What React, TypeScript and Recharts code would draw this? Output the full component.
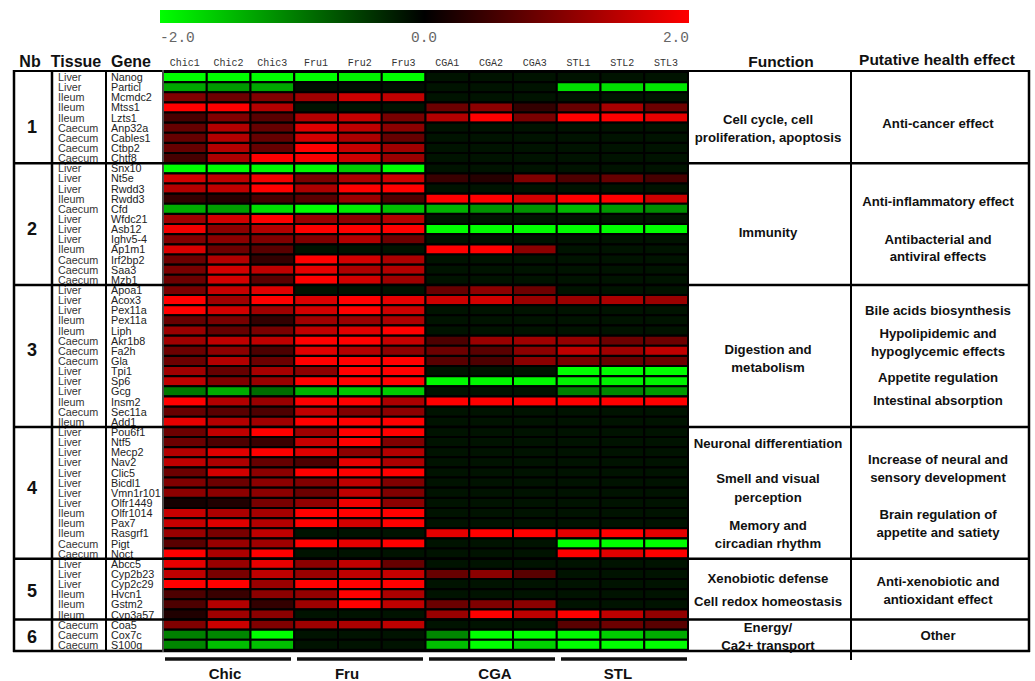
import { Bar, BarChart, Cell, XAxis, YAxis } from 'recharts'

const samples = ['Chic1', 'Chic2', 'Chic3', 'Fru1', 'Fru2', 'Fru3', 'CGA1', 'CGA2', 'CGA3', 'STL1', 'STL2', 'STL3']

const tissues = [
  'Liver', 'Liver', 'Ileum', 'Ileum', 'Ileum', 'Caecum', 'Caecum', 'Caecum', 'Caecum',
  'Liver', 'Liver', 'Liver', 'Ileum', 'Caecum', 'Liver', 'Liver', 'Liver', 'Ileum', 'Caecum', 'Caecum', 'Caecum',
  'Liver', 'Liver', 'Liver', 'Ileum', 'Ileum', 'Caecum', 'Caecum', 'Caecum', 'Liver', 'Liver', 'Liver', 'Ileum', 'Caecum', 'Ileum',
  'Liver', 'Liver', 'Liver', 'Liver', 'Liver', 'Liver', 'Liver', 'Liver', 'Ileum', 'Ileum', 'Ileum', 'Caecum', 'Caecum',
  'Liver', 'Liver', 'Liver', 'Ileum', 'Ileum', 'Ileum',
  'Caecum', 'Caecum', 'Caecum',
]

const genes = [
  'Nanog', 'Particl', 'Mcmdc2', 'Mtss1', 'Lzts1', 'Anp32a', 'Cables1', 'Ctbp2', 'Chtf8',
  'Snx10', 'Nt5e', 'Rwdd3', 'Rwdd3', 'Cfd', 'Wfdc21', 'Asb12', 'Ighv5-4', 'Ap1m1', 'Irf2bp2', 'Saa3', 'Mzb1',
  'Apoa1', 'Acox3', 'Pex11a', 'Pex11a', 'Liph', 'Akr1b8', 'Fa2h', 'Gla', 'Tpi1', 'Sp6', 'Gcg', 'Insm2', 'Sec11a', 'Add1',
  'Pou6f1', 'Ntf5', 'Mecp2', 'Nav2', 'Clic5', 'Bicdl1', 'Vmn1r101', 'Olfr1449', 'Olfr1014', 'Pax7', 'Rasgrf1', 'Pigt', 'Noct',
  'Abcc5', 'Cyp2b23', 'Cyp2c29', 'Hvcn1', 'Gstm2', 'Cyp3a57',
  'Coa5', 'Cox7c', 'S100g',
]

// log ratio per gene, columns in the order of `samples`
const values: number[][] = [
  [-2, -2, -2, -2, -1.9, -2, -0.15, -0.15, -0.15, -0.15, -0.15, -0.15],
  [-1.3, -1.2, -1.3, -0.1, -0.1, -0.1, -0.15, -0.15, -0.15, -1.75, -1.75, -1.8],
  [1.0, 0.85, 1.0, 1.25, 1.6, 1.5, -0.15, -0.15, -0.15, -0.15, -0.15, -0.15],
  [2, 2, 1.4, -0.15, -0.15, -0.15, 0.85, 1.1, 0.4, 0.8, 1.3, 0.85],
  [0.55, 1.0, 0.7, 1.4, 1.55, 0.95, 1.4, 2, 0.95, 2, 2, 1.8],
  [0.8, 1.4, 0.8, 1.75, 1.5, 1.1, -0.15, -0.15, -0.15, -0.15, -0.15, -0.15],
  [0.8, 1.4, 0.8, 1.65, 1.35, 0.8, -0.15, -0.15, -0.15, -0.15, -0.15, -0.15],
  [0.8, 1.4, 0.8, 2, 1.55, 1.25, -0.15, -0.15, -0.15, -0.15, -0.15, -0.15],
  [0.55, 1.35, 2, 1.95, 1.6, 1.2, -0.15, -0.15, -0.15, -0.15, -0.15, -0.15],
  [-2, -2, -1.95, -1.95, -1.6, -2, -0.15, -0.15, -0.15, -0.15, -0.15, -0.15],
  [1.65, 1.5, 1.9, 0.95, 1.35, 1.6, 0.45, 0.3, 1.0, 0.6, 0.8, 0.55],
  [1.4, 1.5, 2, 1.35, 2, 2, -0.15, -0.15, -0.15, -0.15, -0.15, -0.15],
  [0.4, 0.3, 0.55, 0.7, 1.2, 0.6, 2, 2, 1.65, 2, 2, 1.6],
  [-1.35, -1.25, -1.75, -2, -1.85, -1.5, -1.4, -1.15, -1.15, -1.45, -1.2, -1.1],
  [1.25, 1.65, 2, 1.2, 1.1, 1.4, -0.15, -0.15, -0.15, -0.15, -0.15, -0.15],
  [1.9, 1.1, 1.4, 2, 2, 2, -2, -2, -2, -2, -2, -2],
  [1.0, 1.1, 1.0, 1.0, 1.4, 0.85, -0.15, -0.15, -0.15, -0.15, -0.15, -0.15],
  [1.7, 0.85, 0.7, -0.15, -0.15, -0.15, 2, 2, 1.1, -0.15, -0.15, -0.15],
  [0.85, 1.4, 0.4, 2, 1.65, 1.35, -0.15, -0.15, -0.15, -0.15, -0.15, -0.15],
  [0.95, 1.65, 1.5, 1.8, 1.35, 1.4, -0.15, -0.15, -0.15, -0.15, -0.15, -0.15],
  [0.85, 1.65, 0.7, 2, 1.65, 1.25, -0.15, -0.15, -0.15, -0.15, -0.15, -0.15],
  [0.95, 1.55, 1.75, -0.15, -0.15, -0.15, 0.8, 1.1, 0.85, -0.15, -0.15, -0.15],
  [2, 1.25, 2, 1.7, 2, 1.8, 1.6, 1.65, 1.2, 1.2, 1.35, 1.2],
  [2, 1.65, 1.25, 1.65, 2, 1.6, -0.15, -0.15, -0.15, -0.15, -0.15, -0.15],
  [0.8, 0.95, 0.4, 1.25, 1.2, 1.35, -0.15, -0.15, -0.15, -0.15, -0.15, -0.15],
  [1.2, 0.8, 0.95, 1.5, 1.75, 2, -0.15, -0.15, -0.15, -0.15, -0.15, -0.15],
  [1.25, 1.5, 1.5, 2, 2, 1.55, 0.6, 1.2, 1.25, 1.15, 0.85, 0.85],
  [0.85, 1.1, 0.6, 1.75, 1.4, 1.1, 0.85, 0.7, 1.1, 1.5, 1.25, 1.5],
  [0.85, 1.4, 0.85, 2, 2, 2, 0.7, 0.6, 1.1, 0.95, 0.8, 0.85],
  [1.25, 0.8, 1.3, 1.1, 2, 2, -0.15, -0.15, -0.15, -2, -2, -2],
  [1.5, 1.0, 1.2, 2, 2, 2, -1.95, -1.95, -1.95, -1.9, -1.9, -1.9],
  [-0.95, -1.35, -0.85, -1.4, -1.55, -1.6, -0.15, -0.15, -0.15, -1.0, -1.05, -1.2],
  [2, 1.4, 1.2, 2, 2, 1.35, 2, 2, 2, 2, 2, 2],
  [0.8, 0.7, 0.6, 1.5, 1.0, 1.1, -0.15, -0.15, -0.15, -0.15, -0.15, -0.15],
  [1.8, 1.4, 1.25, 2, 2, 2, -0.15, -0.15, -0.15, -0.15, -0.15, -0.15],
  [0.85, 1.5, 2, 1.25, 2, 2, -0.15, -0.15, -0.15, -0.15, -0.15, -0.15],
  [0.85, 0.6, 0.45, 1.55, 2, 1.0, -0.15, -0.15, -0.15, -0.15, -0.15, -0.15],
  [1.4, 1.75, 2, 1.75, 1.1, 1.4, -0.15, -0.15, -0.15, -0.15, -0.15, -0.15],
  [1.5, 1.35, 0.8, 0.6, 1.8, 1.35, -0.15, -0.15, -0.15, -0.15, -0.15, -0.15],
  [0.85, 1.65, 1.1, 2, 2, 2, -0.15, -0.15, -0.15, -0.15, -0.15, -0.15],
  [1.0, 0.85, 1.1, 1.0, 1.5, 1.0, -0.15, -0.15, -0.15, -0.15, -0.15, -0.15],
  [1.1, 1.1, 1.1, 0.85, 1.5, 1.0, -0.15, -0.15, -0.15, -0.15, -0.15, -0.15],
  [0.15, 0.25, 0.95, 1.15, 1.9, 1.1, -0.15, -0.15, -0.15, -0.15, -0.15, -0.15],
  [1.55, 1.35, 1.3, 2, 2, 2, -0.15, -0.15, -0.15, -0.15, -0.15, -0.15],
  [1.55, 1.75, 1.4, 2, 1.65, 2, -0.15, -0.15, -0.15, -0.15, -0.15, -0.15],
  [1.2, 0.95, 1.5, -0.15, -0.15, -0.15, 1.8, 2, 2, 1.8, 2, 1.8],
  [0.7, 1.2, 1.25, 2, 1.8, 2, -0.15, -0.15, -0.15, -2, -2, -2],
  [2, 1.35, 2, -0.15, -0.15, -0.15, -0.15, -0.15, -0.15, 2, 1.75, 2],
  [1.8, 1.2, 1.8, 1.1, 1.5, 0.8, -0.15, -0.15, -0.15, -0.15, -0.15, -0.15],
  [1.5, 0.95, 1.5, 1.2, 1.5, 1.55, 0.8, 1.1, 0.7, -0.15, -0.15, -0.15],
  [2, 2, 1.2, 2, 2, 2, -0.15, -0.15, -0.15, -0.15, -0.15, -0.15],
  [0.6, 0.45, 1.1, 1.15, 2, 1.35, -0.15, -0.15, -0.15, -0.15, -0.15, -0.15],
  [0.6, 1.4, 0.4, 1.25, 2, 1.5, 0.85, 1.0, 1.1, -0.15, -0.15, -0.15],
  [0.25, 1.25, 1.1, -0.15, -0.15, -0.15, 1.2, 2, 1.5, 2, 1.5, 1.15],
  [1.0, 1.6, 1.0, 1.25, 1.35, 1.5, -0.15, -0.15, -0.15, 0.7, 0.85, 0.7],
  [-1.0, -1.05, -2, -0.15, -0.15, -0.15, -1.05, -2, -2, -1.95, -1.6, -1.35],
  [-1.05, -1.5, -1.5, -0.15, -0.15, -0.15, -1.5, -2, -1.65, -2, -2, -2],
]

const groupSizes = [9, 12, 14, 13, 6, 3]
const groupNames = ['Chic', 'Fru', 'CGA', 'STL']

const functionLines = [
  'Cell cycle, cell', 'proliferation, apoptosis', 'Immunity', 'Digestion and', 'metabolism',
  'Neuronal differentiation', 'Smell and visual', 'perception', 'Memory and', 'circadian rhythm',
  'Xenobiotic defense', 'Cell redox homeostasis', 'Energy/', 'Ca2+ transport',
]
const effectLines = [
  'Anti-cancer effect', 'Anti-inflammatory effect', 'Antibacterial and', 'antiviral effects',
  'Bile acids biosynthesis', 'Hypolipidemic and', 'hypoglycemic effects', 'Appetite regulation', 'Intestinal absorption',
  'Increase of neural and', 'sensory development', 'Brain regulation of', 'appetite and satiety',
  'Anti-xenobiotic and', 'antioxidant effect', 'Other',
]

// layout (page pixels)
const functionY = [119, 137, 232, 349, 367, 443, 478, 497, 525, 543, 578, 601, 627, 645]
const effectY = [123, 201, 239, 256, 310, 333, 351, 377, 400, 459, 477, 514, 532, 581, 599, 635]
const nbY = [127, 229, 350, 488, 591, 637]
const groupBarX = [[165, 291], [297, 423], [429, 555], [561, 687]]
const groupLabelX = [225, 347, 495, 618]

const W = 1035
const H = 681
const plotTop = 72
const plotBottom = 650
const rowH = (plotBottom - plotTop) / genes.length

const SANS = '"Liberation Sans", Arial, sans-serif'
const MONO = '"Liberation Mono", "DejaVu Sans Mono", monospace'

function heat(v: number): string {
  const c = Math.round(255 * Math.min(1, Math.abs(v) / 2))
  return v < 0 ? `rgb(0,${c},0)` : `rgb(${c},0,0)`
}

const rows = genes.map((g, i) => ({ key: i, gene: g, tissue: tissues[i] }))

function LabelTick(props: any) {
  const { y, payload } = props
  const i = payload.value as number
  return (
    <g>
      <text x={58} y={y} dominantBaseline="central" fontSize={10.8} fontFamily={SANS} fill="#333">
        {tissues[i]}
      </text>
      <text x={111} y={y} dominantBaseline="central" fontSize={10.8} fontFamily={SANS} fill="#222">
        {genes[i]}
      </text>
    </g>
  )
}

function SampleTick(props: any) {
  const { x, payload } = props
  return (
    <text x={x} y={63} textAnchor="middle" dominantBaseline="central" fontSize={10} fontFamily={MONO} fill="#333">
      {samples[Math.floor(payload.value)]}
    </text>
  )
}

function Overlay() {
  const bounds: number[] = []
  let acc = 0
  for (const s of groupSizes) {
    acc += s
    bounds.push(plotTop + acc * rowH)
  }
  const txt = { fontFamily: SANS, fontWeight: 700, fill: '#111', textAnchor: 'middle' as const, dominantBaseline: 'central' as const }
  return (
    <svg width={W} height={H} style={{ position: 'absolute', left: 0, top: 0, pointerEvents: 'none' }}>
      <defs>
        <linearGradient id="scale" x1="0" x2="1" y1="0" y2="0">
          <stop offset="0" stopColor="#00ff00" />
          <stop offset="0.5" stopColor="#000" />
          <stop offset="1" stopColor="#ff0000" />
        </linearGradient>
      </defs>
      <rect x={160} y={10} width={529} height={13} fill="url(#scale)" />
      <text x={160} y={38} dominantBaseline="central" fontSize={14.5} fontFamily={MONO} fill="#666">-2.0</text>
      <text x={424} y={38} textAnchor="middle" dominantBaseline="central" fontSize={14.5} fontFamily={MONO} fill="#666">0.0</text>
      <text x={689} y={38} textAnchor="end" dominantBaseline="central" fontSize={14.5} fontFamily={MONO} fill="#666">2.0</text>

      <text x={30} y={61} fontSize={16} {...txt}>Nb</text>
      <text x={76} y={61} fontSize={16} {...txt}>Tissue</text>
      <text x={131} y={61} fontSize={16} {...txt}>Gene</text>
      <text x={781} y={61} fontSize={15.5} {...txt}>Function</text>
      <text x={937} y={59} fontSize={15.5} {...txt}>Putative health effect</text>

      {/* table frame */}
      <line x1={13} x2={1030} y1={71} y2={71} stroke="#000" strokeWidth={2} />
      <line x1={13} x2={1030} y1={651} y2={651} stroke="#000" strokeWidth={2.5} />
      <line x1={14} x2={14} y1={70} y2={652} stroke="#000" strokeWidth={2.5} />
      <line x1={52} x2={52} y1={70} y2={652} stroke="#000" strokeWidth={2.5} />
      <line x1={106} x2={106} y1={70} y2={652} stroke="#000" strokeWidth={2} />
      <line x1={163} x2={163} y1={70} y2={652} stroke="#999" strokeWidth={1} />
      <line x1={851} x2={851} y1={70} y2={660} stroke="#000" strokeWidth={2} />
      <line x1={1029} x2={1029} y1={70} y2={652} stroke="#000" strokeWidth={2.5} />
      {bounds.slice(0, -1).map((y, i) => (
        <line key={i} x1={13} x2={1030} y1={y} y2={y} stroke="#000" strokeWidth={2.5} />
      ))}

      {nbY.map((y, i) => (
        <text key={i} x={32} y={y} fontSize={18} {...txt}>{i + 1}</text>
      ))}
      {functionLines.map((t, i) => (
        <text key={t} x={768} y={functionY[i]} fontSize={13.2} {...txt}>{t}</text>
      ))}
      {effectLines.map((t, i) => (
        <text key={t} x={938} y={effectY[i]} fontSize={13.2} {...txt}>{t}</text>
      ))}

      {groupNames.map((g, i) => (
        <g key={g}>
          <line x1={groupBarX[i][0]} x2={groupBarX[i][1]} y1={659} y2={659} stroke="#111" strokeWidth={3.5} />
          <text x={groupLabelX[i]} y={673} fontSize={15} {...txt}>{g}</text>
        </g>
      ))}
    </svg>
  )
}

export default function App() {
  return (
    <div style={{ position: 'absolute', left: 0, top: 0, width: W, height: H, background: '#fff' }}>
      <BarChart
        width={W}
        height={H}
        data={rows}
        layout="vertical"
        barCategoryGap={0}
        margin={{ top: 58, right: W - 688, bottom: H - plotBottom, left: 0 }}
      >
        <XAxis
          type="number"
          orientation="top"
          domain={[0, samples.length]}
          ticks={samples.map((_, j) => j + 0.5)}
          height={14}
          axisLine={false}
          tickLine={false}
          tick={<SampleTick />}
          interval={0}
        />
        <YAxis
          type="category"
          dataKey="key"
          width={163}
          axisLine={false}
          tickLine={false}
          interval={0}
          tick={<LabelTick />}
        />
        {samples.map((s, j) => (
          <Bar key={s} dataKey={() => 1} stackId="hm" isAnimationActive={false}>
            {rows.map((r) => (
              <Cell key={r.key} fill={heat(values[r.key][j])} stroke="#000" strokeWidth={2} />
            ))}
          </Bar>
        ))}
      </BarChart>
      <Overlay />
    </div>
  )
}
